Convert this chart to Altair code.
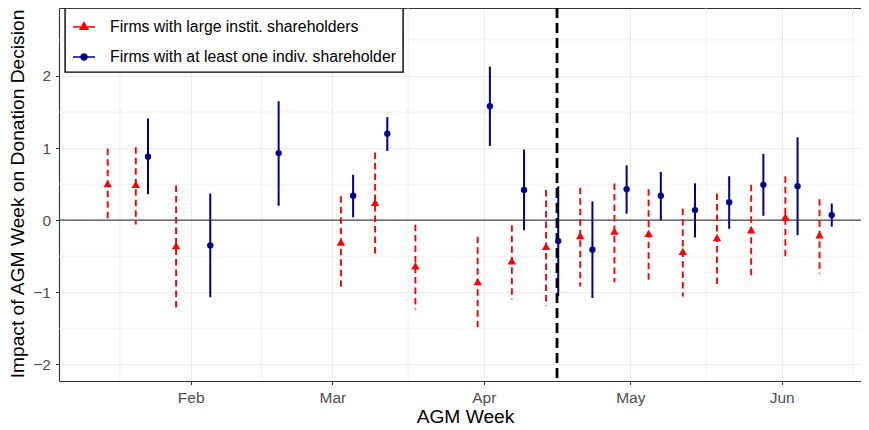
import altair as alt
import pandas as pd

# ---------------- data ----------------
GROUPS = ["Firms with large instit. shareholders", "Firms with at least one indiv. shareholder"]
COLORS = ["#FF0000", "#00008B"]

red_weeks = ["2020-01-15", "2020-01-22", "2020-01-29", "2020-03-04", "2020-03-11", "2020-03-18",
             "2020-04-01", "2020-04-08", "2020-04-15", "2020-04-22", "2020-04-29", "2020-05-06",
             "2020-05-13", "2020-05-20", "2020-05-27", "2020-06-03", "2020-06-10"]
red_est = [0.49, 0.48, -0.37, -0.32, 0.23, -0.65, -0.87, -0.58, -0.38, -0.23, -0.17, -0.20,
           -0.45, -0.26, -0.15, 0.03, -0.22]
red_lo = [-0.01, -0.06, -1.21, -0.97, -0.48, -1.24, -1.51, -1.10, -1.19, -0.92, -0.86, -0.83,
          -1.06, -0.90, -0.79, -0.55, -0.74]
red_hi = [0.99, 1.01, 0.48, 0.33, 0.94, -0.06, -0.23, -0.07, 0.42, 0.45, 0.51, 0.43,
          0.16, 0.37, 0.49, 0.61, 0.29]

blue_weeks = ["2020-01-22", "2020-02-05", "2020-02-19", "2020-03-04", "2020-03-11", "2020-04-01",
              "2020-04-08", "2020-04-15", "2020-04-22", "2020-04-29", "2020-05-06", "2020-05-13",
              "2020-05-20", "2020-05-27", "2020-06-03", "2020-06-10"]
blue_est = [0.88, -0.35, 0.93, 0.34, 1.20, 1.58, 0.42, -0.29, -0.41, 0.43, 0.34, 0.14,
            0.25, 0.49, 0.47, 0.07]
blue_lo = [0.36, -1.07, 0.20, 0.04, 0.96, 1.03, -0.14, -1.05, -1.08, 0.09, 0.00, -0.24,
           -0.12, 0.06, -0.21, -0.09]
blue_hi = [1.41, 0.37, 1.65, 0.63, 1.43, 2.13, 0.98, 0.47, 0.26, 0.76, 0.67, 0.51,
           0.61, 0.92, 1.15, 0.23]

month_breaks = ["2020-02-01", "2020-03-01", "2020-04-01", "2020-05-01", "2020-06-01"]
minor_x = ["2020-01-17T12:00:00Z", "2020-02-15T12:00:00Z", "2020-03-16T12:00:00Z",
           "2020-04-16T00:00:00Z", "2020-05-16T12:00:00Z", "2020-06-15T12:00:00Z"]
y_major = [-2, -1, 0, 1, 2]
y_minor = [-1.5, -0.5, 0.5, 1.5, 2.5]
cutoff = ["2020-04-16T00:00:00Z"]
x_limit_days = [-26.97, 137.24]   # relative to 2020-02-01
y_limits = [-2.2315, 2.9433]
DODGE_DAYS = 1.25

# ---------------- build tables ----------------
both = set(red_weeks) & set(blue_weeks)


def table(weeks, est, lo, hi, group, shift):
    rows = []
    for w, e, l, h in zip(weeks, est, lo, hi):
        t = pd.Timestamp(w, tz="UTC")
        if w in both:
            t = t + pd.Timedelta(days=shift)
        rows.append({"date": t.strftime("%Y-%m-%dT%H:%M:%SZ"), "est": e, "lo": l, "hi": h,
                     "group": group})
    return pd.DataFrame(rows)


red_df = table(red_weeks, red_est, red_lo, red_hi, GROUPS[0], -DODGE_DAYS)
blue_df = table(blue_weeks, blue_est, blue_lo, blue_hi, GROUPS[1], DODGE_DAYS)

base = pd.Timestamp("2020-02-01", tz="UTC")
ms = lambda t: int(t.timestamp() * 1000)
x_domain = [ms(base + pd.Timedelta(days=d)) for d in x_limit_days]
month_ms = [ms(pd.Timestamp(m, tz="UTC")) for m in month_breaks]

xscale = alt.Scale(type="utc", domain=x_domain, nice=False)
yscale = alt.Scale(domain=y_limits, nice=False, zero=False)

FONT = "Liberation Sans"
GRID = "#EBEBEB"
DARK = "#333333"

x_axis = alt.Axis(values=month_ms, labelExpr="utcFormat(datum.value, '%b')", title="AGM Week",
                  grid=True, gridColor=GRID, gridWidth=1.1,
                  domainColor=DARK, domainWidth=1.1, tickColor=DARK, tickWidth=1.1, tickSize=3.5,
                  labelFontSize=15.5, labelColor="#4D4D4D", labelPadding=18.2,
                  labelBaseline="alphabetic", labelFlush=False, labelOverlap=False,
                  titleFontSize=19.2, titleFontWeight="normal", titleColor="black",
                  titleX=406, titleY=41.5, titleBaseline="alphabetic", titleAlign="center")
Y_TITLE = "Impact of AGM Week on Donation Decision"
y_axis = alt.Axis(values=y_major, format="d", title=Y_TITLE,
                  grid=True, gridColor=GRID, gridWidth=1.1,
                  domainColor=DARK, domainWidth=1.1, tickColor=DARK, tickWidth=1.1, tickSize=3.5,
                  labelFontSize=15.5, labelColor="#4D4D4D", labelPadding=5,
                  titleFontSize=19.2, titleFontWeight="normal", titleColor="black",
                  titleAngle=270, titleX=-35.7, titleY=185.5, titleBaseline="alphabetic",
                  titleAlign="center")
top_axis = alt.Axis(orient="top", labels=False, ticks=False, grid=False, title=None,
                    domain=True, domainColor=DARK, domainWidth=1.1)


def Y(field):
    return alt.Y(field, scale=yscale, axis=y_axis, title=Y_TITLE)


# ---------------- layers ----------------
minor_x_layer = alt.Chart(pd.DataFrame({"d": minor_x})).mark_rule(
    color=GRID, strokeWidth=0.7).encode(x=alt.X("d:T", scale=xscale, axis=top_axis))

minor_y_layer = alt.Chart(pd.DataFrame({"v": y_minor})).mark_rule(
    color=GRID, strokeWidth=0.7).encode(y=Y("v:Q"))

zero_layer = alt.Chart(pd.DataFrame({"v": [0]})).mark_rule(
    color="#444444", strokeWidth=1.4).encode(y=Y("v:Q"))

red_err = alt.Chart(red_df).mark_rule(color=COLORS[0], strokeWidth=1.9, strokeDash=[6.5, 4]).encode(
    x=alt.X("date:T", scale=xscale, axis=x_axis),
    y=Y("hi:Q"),
    y2="lo:Q",
)
blue_err = alt.Chart(blue_df).mark_rule(color=COLORS[1], strokeWidth=2).encode(
    x=alt.X("date:T", scale=xscale, axis=None),
    y=Y("hi:Q"),
    y2="lo:Q",
)
cut_layer = alt.Chart(pd.DataFrame({"d": cutoff})).mark_rule(
    color="black", strokeWidth=2.8, strokeDash=[10, 5]).encode(
    x=alt.X("d:T", scale=xscale, axis=None))

TRI = "M0,-1L0.866,0.5L-0.866,0.5Z"
red_pts = alt.Chart(red_df).mark_point(shape=TRI, filled=True, size=95, opacity=1,
                                       color=COLORS[0]).encode(
    x=alt.X("date:T", scale=xscale, axis=None),
    y=Y("est:Q"),
)
blue_pts = alt.Chart(blue_df).mark_point(shape="circle", filled=True, size=40, opacity=1,
                                         color=COLORS[1]).encode(
    x=alt.X("date:T", scale=xscale, axis=None),
    y=Y("est:Q"),
)

LEG_TRI = "M-1,0H1M0,-0.4L0.346,0.2L-0.346,0.2Z"
LEG_CIRC = "M-1,0H1M0.27,0A0.27,0.27,0,1,1,-0.27,0A0.27,0.27,0,1,1,0.27,0Z"
leg = alt.Legend(title=None, orient="none", legendX=6, legendY=0,
                 strokeColor="black", fillColor="white", padding=7, rowPadding=10,
                 labelFontSize=15.8, labelColor="black", labelFont=FONT, labelOffset=14,
                 labelLimit=400, symbolSize=484, symbolStrokeWidth=1.5, symbolOpacity=1)
legend_layer = alt.Chart(pd.DataFrame({"group": GROUPS})).mark_point(
    filled=True, opacity=0, size=484, strokeWidth=1.5).encode(
    color=alt.Color("group:N", scale=alt.Scale(domain=GROUPS, range=COLORS), legend=leg),
    stroke=alt.Stroke("group:N", scale=alt.Scale(domain=GROUPS, range=COLORS), legend=leg),
    shape=alt.Shape("group:N", scale=alt.Scale(domain=GROUPS, range=[LEG_TRI, LEG_CIRC]), legend=leg),
)

chart = alt.layer(
    minor_x_layer, minor_y_layer, zero_layer, red_err, blue_err, cut_layer, red_pts, blue_pts,
    legend_layer,
).resolve_axis(x="independent").properties(
    width=802, height=373,
    padding={"left": 51, "top": 0, "right": 0, "bottom": 46},
    autosize=alt.AutoSizeParams(type="none"),
).configure(font=FONT).configure_view(stroke=None).configure_legend(strokeWidth=1.4)

chart.save("out.html", embed_options={"renderer": "svg", "actions": False})
